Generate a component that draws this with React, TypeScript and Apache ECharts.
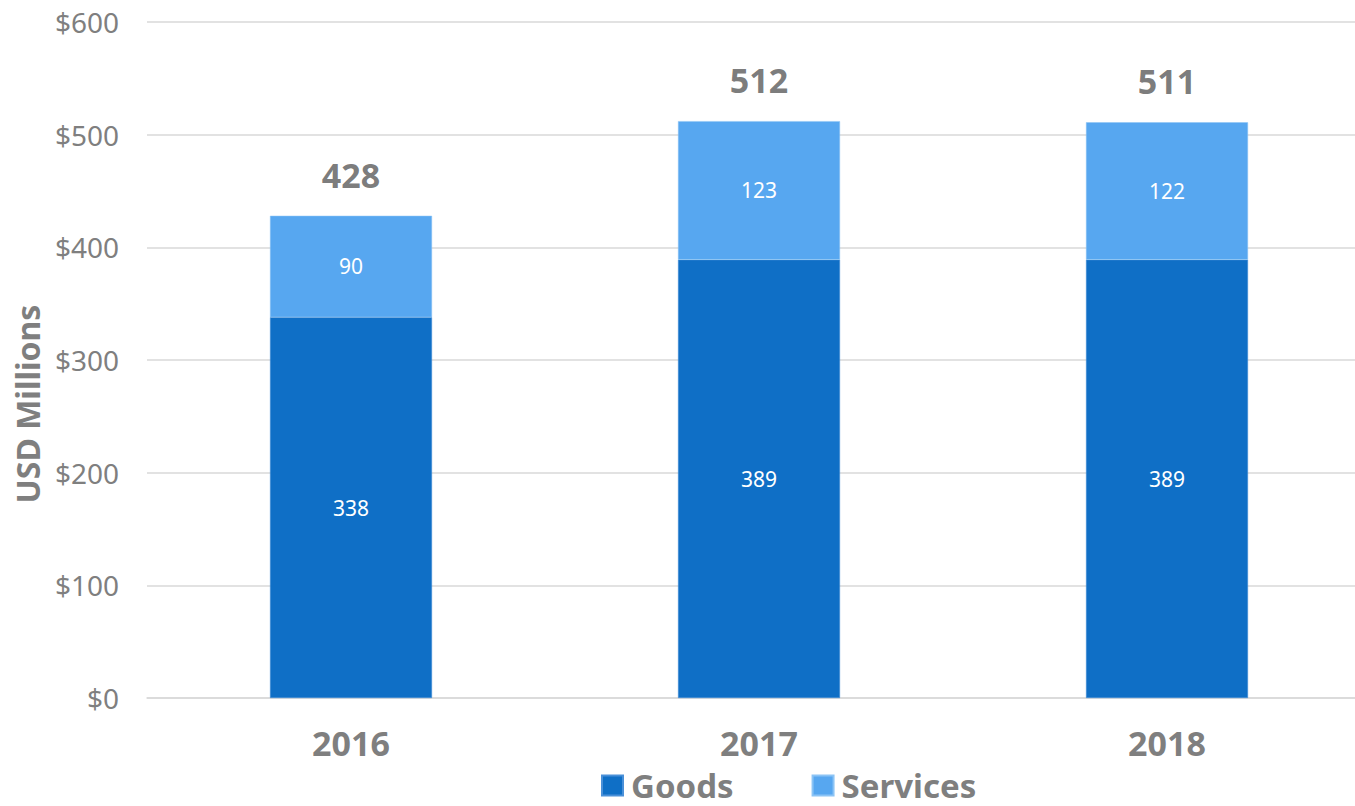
import React, { useEffect, useRef } from "react";
import * as echarts from "echarts";

const categories = ["2016", "2017", "2018"];
const goods = [338, 389, 389];
const services = [90, 123, 122];
const totals = [428, 512, 511];
const yTicks = [0, 100, 200, 300, 400, 500, 600];

const FONT = "'Noto Sans', 'Open Sans', sans-serif";
const GRAY = "#7f7f7f";

export default function App() {
  const ref = useRef<HTMLDivElement>(null);
  useEffect(() => {
    if (!ref.current) return;
    const chart = echarts.init(ref.current, null, { renderer: "svg" });
    chart.setOption({
      animation: false,
      textStyle: { fontFamily: FONT },
      grid: { left: 147, top: 22, bottom: 108, right: 0 },
      legend: {
        left: 601,
        top: 769,
        padding: 0,
        itemWidth: 21,
        itemHeight: 20,
        itemGap: 78,
        icon: "rect",
        textStyle: {
          fontSize: 33,
          fontWeight: "bold",
          color: GRAY,
          fontFamily: FONT,
          padding: [0, 0, 0, 3],
        },
        data: ["Goods", "Services"],
      },
      graphic: [
        {
          type: "text",
          x: 27,
          y: 404,
          rotation: Math.PI / 2,
          style: {
            text: "USD Millions",
            fontSize: 32,
            fontWeight: "bold",
            fill: GRAY,
            fontFamily: FONT,
            align: "center",
            verticalAlign: "middle",
          },
        },
      ],
      xAxis: {
        type: "category",
        data: categories,
        axisLine: { show: true, lineStyle: { color: "#d9d9d9", width: 1.5 } },
        axisTick: { show: false },
        axisLabel: { fontSize: 34, fontWeight: "bold", color: GRAY, margin: 28, fontFamily: FONT },
      },
      yAxis: {
        type: "value",
        min: yTicks[0],
        max: yTicks[yTicks.length - 1],
        interval: 100,
        axisLine: { show: false },
        axisTick: { show: false },
        splitLine: { lineStyle: { color: "#d9d9d9", width: 1.5 } },
        axisLabel: {
          fontSize: 28,
          color: GRAY,
          margin: 28,
          fontFamily: FONT,
          formatter: (v: number) => "$" + v,
        },
      },
      series: [
        {
          name: "Goods",
          type: "bar",
          stack: "total",
          data: goods,
          barWidth: 162,
          itemStyle: { color: "#0f6fc6", borderColor: "#4a90d8", borderWidth: 0.5 },
          label: { show: true, position: "inside", color: "#fff", fontSize: 21, fontFamily: FONT },
        },
        {
          name: "Services",
          type: "bar",
          stack: "total",
          data: services,
          barWidth: 162,
          itemStyle: { color: "#57a7f0", borderColor: "#8cc4f5", borderWidth: 0.5 },
          label: { show: true, position: "inside", color: "#fff", fontSize: 21, fontFamily: FONT },
        },
        {
          name: "Total",
          type: "scatter",
          data: totals,
          symbolSize: 0,
          silent: true,
          label: {
            show: true,
            position: "top",
            distance: 24,
            fontSize: 34,
            fontWeight: "bold",
            color: "#595959",
            fontFamily: FONT,
          },
        },
      ],
    });
    return () => chart.dispose();
  }, []);
  return (
    <div style={{ position: "absolute", left: 0, top: 0, width: 1355, height: 806, overflow: "hidden" }}>
      <div ref={ref} style={{ width: 1371, height: 806 }} />
    </div>
  );
}
